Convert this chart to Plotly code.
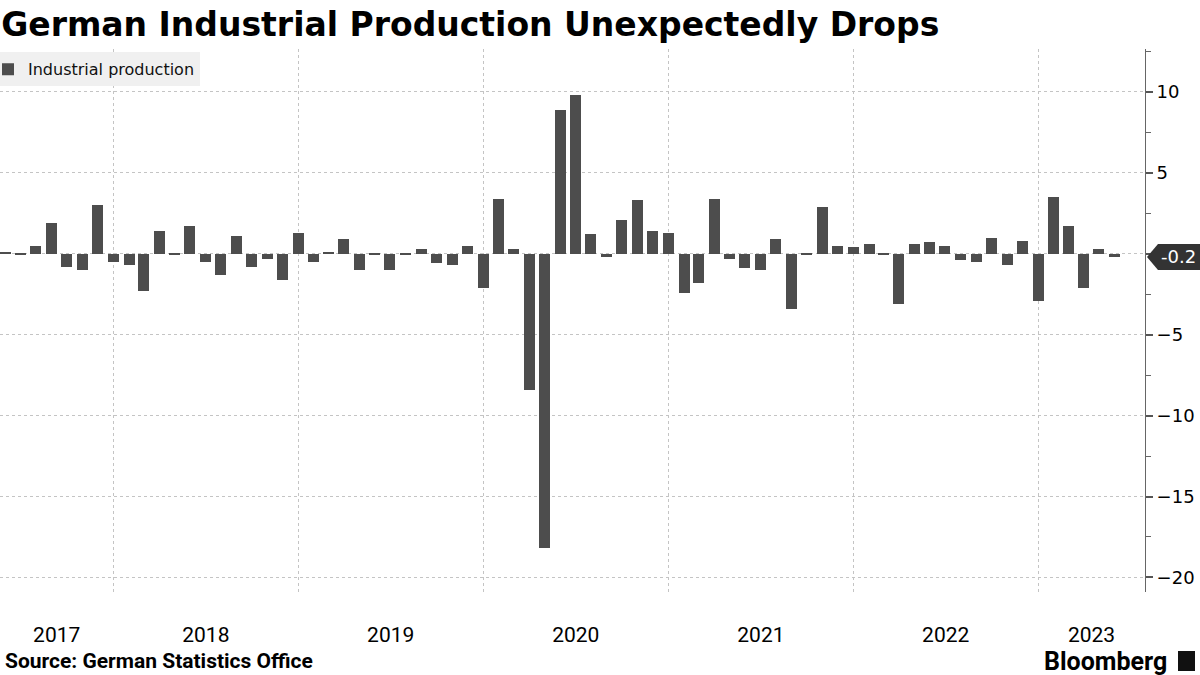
import pandas as pd
import plotly.graph_objects as go

# ---- data: German industrial production, % change m/m (May 2017 - May 2023)
ip_2017 = [0.1, -0.1, 0.5, 1.9, -0.8, -1.0, 3.0, -0.5]            # May-Dec
ip_2018 = [-0.7, -2.3, 1.4, -0.1, 1.7, -0.5, -1.3, 1.1, -0.8, -0.3, -1.6, 1.3]
ip_2019 = [-0.5, 0.1, 0.9, -1.0, -0.1, -1.0, -0.1, 0.3, -0.6, -0.7, 0.5, -2.1]
ip_2020 = [3.4, 0.3, -8.4, -18.2, 8.9, 9.8, 1.2, -0.2, 2.1, 3.3, 1.4, 1.3]
ip_2021 = [-2.4, -1.8, 3.4, -0.3, -0.9, -1.0, 0.9, -3.4, -0.1, 2.9, 0.5, 0.4]
ip_2022 = [0.6, -0.1, -3.1, 0.6, 0.7, 0.5, -0.4, -0.5, 1.0, -0.7, 0.8, -2.9]
ip_2023 = [3.5, 1.7, -2.1, 0.3, -0.2]                              # Jan-May

values = ip_2017 + ip_2018 + ip_2019 + ip_2020 + ip_2021 + ip_2022 + ip_2023
first_month = "2017-05-01"
months = pd.date_range(first_month, periods=len(values), freq="MS")

year_labels = ["2017", "2018", "2019", "2020", "2021", "2022", "2023"]
y_ticks = [-20, -15, -10, -5, 0, 5, 10]
y_ticktext = ["\u221220", "\u221215", "\u221210", "\u22125", "", "5", "10"]

series_name = "Industrial production"
title_text = "German Industrial Production Unexpectedly Drops"
source_text = "Source: German Statistics Office"
brand_text = "Bloomberg"

# ---- styling / layout constants
BAR_COLOR = "#4d4d4d"
GRID_COLOR = "#c4c4c4"
x_start = pd.Timestamp("2017-05-22")
x_end = pd.Timestamp("2023-07-31")
y_range = [-20.9, 12.65]
bar_width_ms = 21.7 * 86400000
FOOT_Y = (592 - 661) / 543

# year label positions: centre of each year's visible span
label_pos = []
for yl in year_labels:
    a = max(pd.Timestamp(f"{yl}-01-01"), x_start)
    b = min(pd.Timestamp(f"{int(yl) + 1}-01-01"), x_end)
    label_pos.append(a + (b - a) / 2)

fig = go.Figure()
fig.add_trace(go.Bar(
    x=months, y=values, name=series_name,
    xperiod="M1", xperiodalignment="end",
    width=bar_width_ms,
    marker=dict(color=BAR_COLOR, line=dict(width=0)),
    showlegend=True,
))

fig.update_layout(
    width=1200, height=675,
    margin=dict(l=0, r=55, t=49, b=83),
    paper_bgcolor="white", plot_bgcolor="white",
    bargap=0,
    title=dict(
        text=f"<b>{title_text}</b>",
        x=0.001, xanchor="left", xref="container",
        y=1 - 24 / 675, yanchor="middle", yref="container",
        font=dict(family="DejaVu Sans", size=33, color="#000000"),
    ),
    legend=dict(
        x=0, y=0.994, xanchor="left", yanchor="top",
        bgcolor="#f0f0f0", borderwidth=0,
        font=dict(family="DejaVu Sans", size=16, color="#111111"),
        indentation=-12,
    ),
    xaxis=dict(
        type="date",
        range=[x_start, x_end],
        tickmode="array", tickvals=label_pos, ticktext=year_labels,
        ticks="", showgrid=False, zeroline=False, showline=False,
        tickfont=dict(family="Roboto", size=21, color="#000000"),
        ticklabelstandoff=28,
        minor=dict(
            tick0="2018-01-01", dtick="M12",
            showgrid=True, griddash="dot", gridcolor=GRID_COLOR, gridwidth=1,
        ),
    ),
    yaxis=dict(
        side="right", range=y_range,
        tickmode="array", tickvals=y_ticks, ticktext=y_ticktext,
        ticks="outside", ticklen=7, tickwidth=2, tickcolor="#555555",
        showline=True, linecolor="#666666", linewidth=1,
        showgrid=True, gridcolor=GRID_COLOR, griddash="dot", gridwidth=1,
        zeroline=False,
        tickfont=dict(family="DejaVu Sans", size=18, color="#000000"),
        minor=dict(dtick=2.5, tick0=0, ticks="outside", ticklen=5,
                   tickcolor="#666666", tickwidth=1, showgrid=False),
    ),
)

# last-value badge on the y axis
last_val = values[-1]
fig.add_shape(
    type="path", xref="paper", yref="y",
    xsizemode="pixel", ysizemode="pixel",
    xanchor=1, yanchor=last_val,
    path="M 2 0 L 13 13 L 56 13 L 56 -13 L 13 -13 Z",
    fillcolor="#333333", line=dict(width=0), layer="above",
)
fig.add_annotation(
    x=1, xref="paper", y=last_val, yref="y",
    text=f"{last_val:.1f}", showarrow=False,
    xanchor="left", yanchor="middle", xshift=14,
    font=dict(family="DejaVu Sans", size=18, color="#ffffff"),
)

# footer
fig.add_annotation(
    x=0, xref="paper", y=FOOT_Y, yref="paper",
    text=f"<b>{source_text}</b>", showarrow=False,
    xanchor="left", yanchor="middle", xshift=3,
    font=dict(family="Roboto", size=21, color="#000000"),
)
fig.add_annotation(
    x=1, xref="paper", y=FOOT_Y, yref="paper",
    text=f"<b>{brand_text}</b>", showarrow=False,
    xanchor="right", yanchor="middle", xshift=24,
    font=dict(family="Roboto", size=25, color="#000000"),
)
fig.add_shape(
    type="rect", xref="paper", yref="paper",
    xsizemode="pixel", ysizemode="pixel",
    xanchor=1, yanchor=FOOT_Y,
    x0=33, x1=50, y0=-10, y1=10,
    fillcolor="#111111", line=dict(width=0),
)

fig.write_html(
    "out.html",
    config={"displayModeBar": False},
    post_script="document.body.style.margin='0';",
)
